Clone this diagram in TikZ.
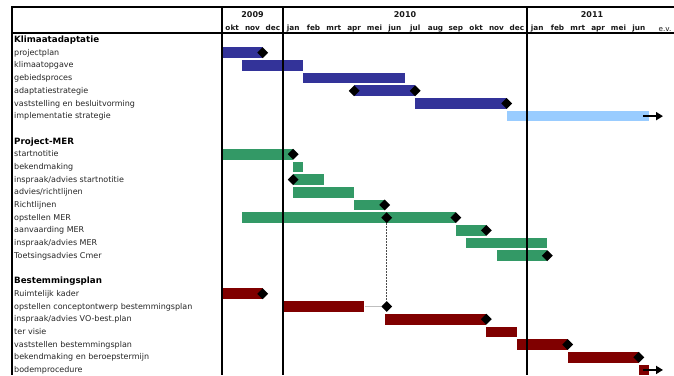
\documentclass[tikz,border=0pt]{standalone}
\usepackage{fontspec}
\setmainfont{DejaVu Sans}
\usetikzlibrary{shapes.geometric,arrows.meta}
\definecolor{kblue}{HTML}{333399}
\definecolor{lblue}{HTML}{99CCFF}
\definecolor{mgreen}{HTML}{339966}
\definecolor{bred}{HTML}{800000}
\newcommand\ganttbar[5]{%
  \pgfmathsetmacro\gx{222+(#3+#4)/2*20.333}%
  \pgfmathsetmacro\gw{(#4-#3)*20.333}%
  \pgfmathsetmacro\gy{40+#2*12.69}%
  \node[barbox, fill=#5, minimum width=\gw pt] (#1) at (\gx,\gy) {};%
}
\newcommand\ganttms[3]{%
  \pgfmathsetmacro\gx{222+#3*20.333}%
  \pgfmathsetmacro\gy{40+#2*12.69}%
  \node[msbox] (#1) at (\gx,\gy) {};%
}
\newcommand\ganttlbl[4]{%
  \pgfmathsetmacro\gy{40+#2*12.69+2.6}%
  \node[#3] (#1) at (14,\gy) {#4};%
}
\begin{document}
\begin{tikzpicture}[x=1pt,y=-1pt,
  frame/.style={line width=2pt, black},
  lbl/.style={anchor=base west, inner sep=0pt, font=\fontsize{8pt}{9pt}\selectfont, text=black!85},
  sect/.style={anchor=base west, inner sep=0pt, font=\fontsize{8.7pt}{10pt}\selectfont\bfseries, text=black},
  month/.style={anchor=base, inner sep=0pt, font=\fontsize{7.3pt}{8pt}\selectfont\bfseries, text=black!90},
  year/.style={anchor=base, inner sep=0pt, font=\fontsize{8pt}{9pt}\selectfont\bfseries, text=black!90},
  barbox/.style={rectangle, draw=none, inner sep=0pt, minimum height=10.7pt},
  msbox/.style={diamond, fill=black, draw=none, inner sep=0pt, minimum width=11pt, minimum height=11pt},
  evarrow/.style={line width=2pt, black, -{Triangle[length=7pt,width=8pt]}},
]
\useasboundingbox (0,0) rectangle (674,375);
\fill[white] (0,0) rectangle (674,375);

% header labels
\node[year] (y2009) at (252.5,17.9) {2009};
\node[year] (y2010) at (405,17.9) {2010};
\node[year] (y2011) at (592,17.9) {2011};
\foreach \m [count=\i from 0] in {okt,nov,dec,jan,feb,mrt,apr,mei,jun,jul,aug,sep,okt,nov,dec,jan,feb,mrt,apr,mei,jun}
  \node[month] (mo\i) at ({222+(\i+0.5)*20.333},30.9) {\m};
\node[anchor=base, inner sep=0pt, font=\fontsize{7.2pt}{8pt}\selectfont, text=black!90] (ev) at (665,31.4) {e.v.};

% row labels
\ganttlbl{s1}{0}{sect}{Klimaatadaptatie}
\ganttlbl{l1}{1}{lbl}{projectplan}
\ganttlbl{l2}{2}{lbl}{klimaatopgave}
\ganttlbl{l3}{3}{lbl}{gebiedsproces}
\ganttlbl{l4}{4}{lbl}{adaptatiestrategie}
\ganttlbl{l5}{5}{lbl}{vaststelling en besluitvorming}
\ganttlbl{l6}{6}{lbl}{implementatie strategie}
\ganttlbl{s2}{8}{sect}{Project-MER}
\ganttlbl{l9}{9}{lbl}{startnotitie}
\ganttlbl{l10}{10}{lbl}{bekendmaking}
\ganttlbl{l11}{11}{lbl}{inspraak/advies startnotitie}
\ganttlbl{l12}{12}{lbl}{advies/richtlijnen}
\ganttlbl{l13}{13}{lbl}{Richtlijnen}
\ganttlbl{l14}{14}{lbl}{opstellen MER}
\ganttlbl{l15}{15}{lbl}{aanvaarding MER}
\ganttlbl{l16}{16}{lbl}{inspraak/advies MER}
\ganttlbl{l17}{17}{lbl}{Toetsingsadvies Cmer}
\ganttlbl{s3}{19}{sect}{Bestemmingsplan}
\ganttlbl{l20}{20}{lbl}{Ruimtelijk kader}
\ganttlbl{l21}{21}{lbl}{opstellen conceptontwerp bestemmingsplan}
\ganttlbl{l22}{22}{lbl}{inspraak/advies VO-best.plan}
\ganttlbl{l23}{23}{lbl}{ter visie}
\ganttlbl{l24}{24}{lbl}{vaststellen bestemmingsplan}
\ganttlbl{l25}{25}{lbl}{bekendmaking en beroepstermijn}
\ganttlbl{l26}{26}{lbl}{bodemprocedure}

% bars
\ganttbar{b1}{1}{0}{2}{kblue}
\ganttbar{b2}{2}{1}{4}{kblue}
\ganttbar{b3}{3}{4}{9}{kblue}
\ganttbar{b4}{4}{6.5}{9.5}{kblue}
\ganttbar{b5}{5}{9.5}{14}{kblue}
\ganttbar{b6}{6}{14}{21}{lblue}
\ganttbar{b9}{9}{0}{3.5}{mgreen}
\ganttbar{b10}{10}{3.5}{4}{mgreen}
\ganttbar{b11}{11}{3.5}{5}{mgreen}
\ganttbar{b12}{12}{3.5}{6.5}{mgreen}
\ganttbar{b13}{13}{6.5}{8}{mgreen}
\ganttbar{b14}{14}{1}{11.5}{mgreen}
\ganttbar{b15}{15}{11.5}{13}{mgreen}
\ganttbar{b16}{16}{12}{16}{mgreen}
\ganttbar{b17}{17}{13.5}{16}{mgreen}
\ganttbar{b20}{20}{0}{2}{bred}
\ganttbar{b21}{21}{3}{7}{bred}
\ganttbar{b22}{22}{8}{13}{bred}
\ganttbar{b23}{23}{13}{14.5}{bred}
\ganttbar{b24}{24}{14.5}{17}{bred}
\ganttbar{b25}{25}{17}{20.5}{bred}
\ganttbar{b26}{26}{20.5}{21}{bred}

% frame lines
\draw[frame] (12,7) -- (674,7);
\draw[frame] (12,33) -- (674,33);
\draw[frame] (12,6) -- (12,375);
\draw[frame] (222,6) -- (222,375);
\draw[frame] (283,6) -- (283,375);
\draw[frame] (527,6) -- (527,375);

% milestones
\ganttms{m1}{1}{2}
\ganttms{m4a}{4}{6.5}
\ganttms{m4b}{4}{9.5}
\ganttms{m5}{5}{14}
\ganttms{m9}{9}{3.5}
\ganttms{m11}{11}{3.5}
\ganttms{m13}{13}{8}
\ganttms{m14a}{14}{8.1}
\ganttms{m14b}{14}{11.5}
\ganttms{m15}{15}{13}
\ganttms{m17}{17}{16}
\ganttms{m20}{20}{2}
\ganttms{m21}{21}{8.1}
\ganttms{m22}{22}{13}
\ganttms{m24}{24}{17}
\ganttms{m25}{25}{20.5}

% links
\draw[black!70, line width=0.7pt, dash pattern=on 2pt off 1pt] (m14a.south) -- (m21.north);
\draw[black!25, line width=0.8pt] (b21.east) -- (m21.west);

% arrows
\coordinate (ev6) at (663,{40+6*12.69});
\coordinate (ev26) at (663,{40+26*12.69});
\draw[evarrow] ([xshift=-6pt]b6.east) -- (ev6);
\draw[evarrow] ([xshift=-6pt]b26.east) -- (ev26);
\end{tikzpicture}
\end{document}
